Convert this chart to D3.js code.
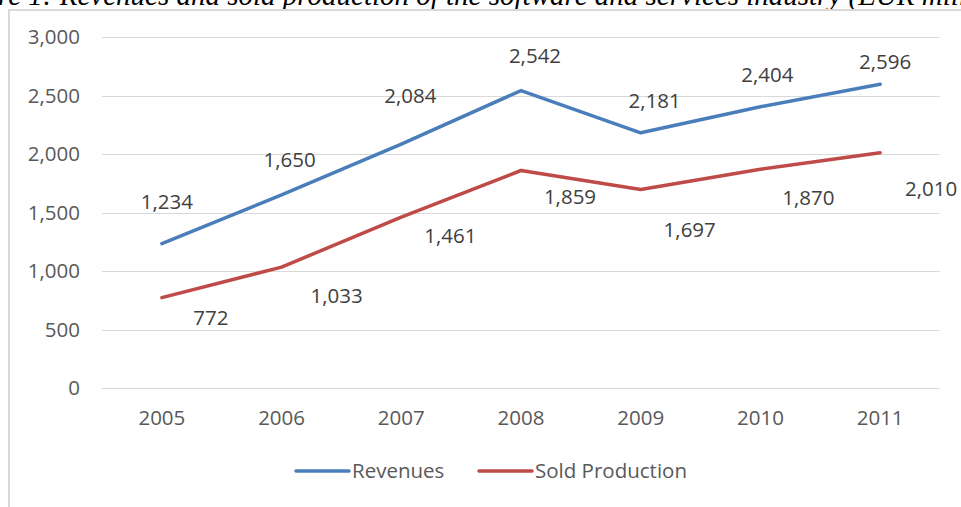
<!DOCTYPE html>
<html><head><meta charset="utf-8">
<script src="https://cdn.jsdelivr.net/npm/d3@7"></script>
<style>
html,body{margin:0;padding:0;background:#fff;overflow:hidden}
svg{display:block}
</style></head>
<body>
<svg id="c" width="961" height="507"></svg>
<script>
const years = ["2005","2006","2007","2008","2009","2010","2011"];
const revenues = [1234,1650,2084,2542,2181,2404,2596];
const soldProduction = [772,1033,1461,1859,1697,1870,2010];
const yTicks = [0,500,1000,1500,2000,2500,3000];
const seriesNames = ["Revenues","Sold Production"];
const titleText = "Figure 1: Revenues and sold production of the software and services industry (EUR million)";

// label nudges (layout only)
const revLabelOff = [[5,-42],[8,-35],[9,-48],[14,-35],[14,-32],[7,-32],[5,-22]];
const solLabelOff = [[49,20],[55,29],[49,19],[49,26],[49,40],[48,29],[51,36]];

const svg = d3.select("#c");
const font = "'Open Sans', Lato, sans-serif";
const fs = 20.5;

// title (cut off at top, as in the source image)
const tfs = 29;
const t = svg.append("text")
  .attr("y", 5)
  .attr("font-family","'Liberation Serif','Times New Roman',serif")
  .attr("font-style","italic")
  .attr("font-size", tfs)
  .attr("fill","#000")
  .text(titleText);
const pre = svg.append("text").attr("font-family","'Liberation Serif',serif").attr("font-style","italic").attr("font-size",tfs).text("Figu");
const preW = pre.node().getComputedTextLength(); pre.remove();
t.attr("x", -preW - 2);

// chart border
svg.append("rect").attr("x",9).attr("y",10).attr("width",1000).attr("height",600)
  .attr("fill","none").attr("stroke","#d9d9d9").attr("stroke-width",2);

const x = d3.scaleBand().domain(years).range([102,940]);
const y = d3.scaleLinear().domain([0,3000]).range([388,37]);

// grid
svg.append("g").selectAll("line").data(yTicks).join("line")
  .attr("x1",102).attr("x2",940)
  .attr("y1",d=>Math.round(y(d))+0.5).attr("y2",d=>Math.round(y(d))+0.5)
  .attr("stroke","#d9d9d9").attr("stroke-width",1);

// y labels
const fmt = d3.format(",");
svg.append("g").selectAll("text").data(yTicks).join("text")
  .attr("x",80).attr("y",d=>y(d)).attr("dy","0.35em")
  .attr("text-anchor","end").attr("font-family",font).attr("font-size",fs).attr("fill","#595959")
  .text(d=>fmt(d));

// x labels
svg.append("g").selectAll("text").data(years).join("text")
  .attr("x",d=>x(d)+x.bandwidth()/2).attr("y",418).attr("dy","0.35em")
  .attr("text-anchor","middle").attr("font-family",font).attr("font-size",fs).attr("fill","#595959")
  .text(d=>d);

const cx = (d,i)=>x(years[i])+x.bandwidth()/2;
const line = d3.line().x((d,i)=>cx(d,i)).y(d=>y(d));
const colors = ["#4A7EBB","#BE4B48"];
[revenues, soldProduction].forEach((s,k)=>{
  svg.append("path").datum(s).attr("d",line).attr("fill","none")
    .attr("stroke",colors[k]).attr("stroke-width",3.5)
    .attr("stroke-linecap","round").attr("stroke-linejoin","round");
});

// data labels
[[revenues,revLabelOff],[soldProduction,solLabelOff]].forEach(([s,off])=>{
  svg.append("g").selectAll("text").data(s).join("text")
    .attr("x",(d,i)=>cx(d,i)+off[i][0]).attr("y",(d,i)=>y(d)+off[i][1]).attr("dy","0.35em")
    .attr("text-anchor","middle").attr("font-family",font).attr("font-size",fs).attr("fill","#404040")
    .text(d=>fmt(d));
});

// legend
const lg = svg.append("g");
const legX = [296,479];
seriesNames.forEach((n,k)=>{
  lg.append("line").attr("x1",legX[k]).attr("x2",legX[k]+53).attr("y1",471).attr("y2",471)
    .attr("stroke",colors[k]).attr("stroke-width",3.5).attr("stroke-linecap","round");
  lg.append("text").attr("x",legX[k]+56).attr("y",471).attr("dy","0.35em")
    .attr("font-family",font).attr("font-size",fs).attr("fill","#595959").text(n);
});
</script>
</body></html>
